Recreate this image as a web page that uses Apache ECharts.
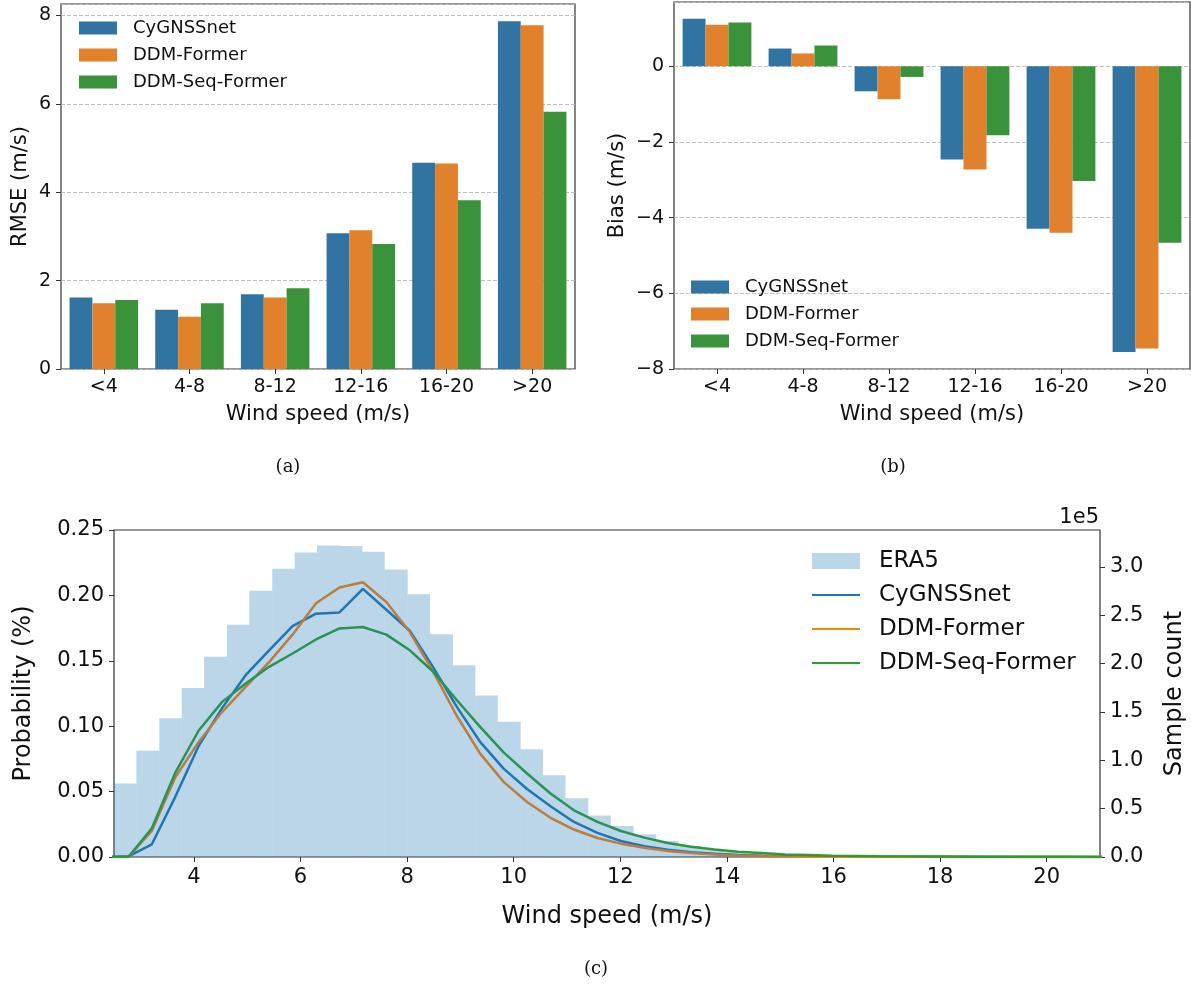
<!DOCTYPE html>
<html>
<head>
<meta charset="utf-8">
<script src="https://cdn.jsdelivr.net/npm/echarts@6/dist/echarts.min.js"></script>
<style>
  html, body { margin: 0; padding: 0; background: #fff; }
  #main { width: 1191px; height: 987px; }
</style>
</head>
<body>
<div id="main"></div>
<script>
// panels (a) and (b): error by wind speed bin
var categories = ['<4', '4-8', '8-12', '12-16', '16-20', '>20'];
var modelNames = ['CyGNSSnet', 'DDM-Former', 'DDM-Seq-Former'];
var rmseCyg = [1.62, 1.34, 1.69, 3.07, 4.67, 7.87];
var rmseFormer = [1.49, 1.18, 1.62, 3.14, 4.65, 7.78];
var rmseSeq = [1.56, 1.49, 1.83, 2.83, 3.82, 5.82];
var biasCyg = [1.26, 0.47, -0.66, -2.46, -4.29, -7.55];
var biasFormer = [1.10, 0.34, -0.87, -2.73, -4.40, -7.46];
var biasSeq = [1.16, 0.55, -0.28, -1.82, -3.03, -4.66];

// panel (c): ERA5 histogram (sample count, 1e5) and predicted pdfs
var eraEdges = [2.50, 2.92, 3.35, 3.77, 4.19, 4.62, 5.04, 5.47, 5.89, 6.31, 6.74, 7.16, 7.58, 8.01, 8.43,
  8.86, 9.28, 9.70, 10.13, 10.55, 10.97, 11.40, 11.82, 12.25, 12.67, 13.09, 13.52, 13.94, 14.36, 14.79,
  15.21, 15.64, 16.06, 16.48, 16.91, 17.33, 17.75, 18.18, 18.60, 19.03, 19.45, 19.87, 20.30, 20.72, 21.14];
var eraCount = [0.759, 1.097, 1.434, 1.748, 2.069, 2.400, 2.752, 2.979, 3.148, 3.221,
  3.214, 3.155, 2.972, 2.717, 2.303, 1.983, 1.669, 1.397, 1.114, 0.845,
  0.607, 0.428, 0.321, 0.234, 0.166, 0.115, 0.080, 0.055, 0.038, 0.026,
  0.018, 0.012, 0.008, 0.006, 0.004, 0.003, 0.002, 0.0015, 0.001, 0.0008,
  0.0006, 0.0004, 0.0003, 0.0002];
var windX = [2.33, 2.77, 3.21, 3.65, 4.09, 4.53, 4.97, 5.41, 5.85, 6.29, 6.73, 7.17, 7.61, 8.05, 8.49,
  8.93, 9.37, 9.81, 10.25, 10.69, 11.13, 11.57, 12.01, 12.45, 12.89, 13.33, 13.77, 14.21, 14.65, 15.09,
  15.53, 15.97, 16.85, 17.73, 18.61, 19.49, 20.37, 21.25];
var pdfCyg = [0, 0.0005, 0.0097, 0.046, 0.085, 0.114, 0.139, 0.158, 0.1765, 0.186, 0.187, 0.205, 0.189, 0.173, 0.145,
  0.115, 0.088, 0.0676, 0.052, 0.0388, 0.0268, 0.0184, 0.0122, 0.0082, 0.0056, 0.0037, 0.0025, 0.0016, 0.0010, 0.0007,
  0.0004, 0.0003, 0.0002, 0.0001, 0.0001, 0, 0, 0];
var pdfFormer = [0, 0, 0.020, 0.061, 0.088, 0.111, 0.130, 0.149, 0.170, 0.194, 0.206, 0.210, 0.195, 0.172, 0.1416,
  0.108, 0.079, 0.0574, 0.042, 0.030, 0.021, 0.0145, 0.0102, 0.0071, 0.0046, 0.0030, 0.0020, 0.0012, 0.0007, 0.0004,
  0.0002, 0.0001, 0, 0, 0, 0, 0, 0];
var pdfSeq = [0, 0, 0.022, 0.0645, 0.0967, 0.1186, 0.1327, 0.1454, 0.1556, 0.1663, 0.1747, 0.1758, 0.170, 0.158, 0.1416,
  0.120, 0.0995, 0.080, 0.0638, 0.0485, 0.0357, 0.0268, 0.0199, 0.0148, 0.0107, 0.0078, 0.0057, 0.0040, 0.0030, 0.0020,
  0.0015, 0.0010, 0.0006, 0.0004, 0.0002, 0.0001, 0.0001, 0];

var barColors = ['#3274a1', '#e1812c', '#3a923a'];
var lineColors = ['#1f77b4', '#ff7f0e', '#2ca02c'];
var FONT = 'DejaVu Sans';
var TXT = '#111';

var myChart = echarts.init(document.getElementById('main'), null, { renderer: 'canvas' });

function zip(xs, ys) {
  return xs.map(function (x, i) { return [x, ys[i]]; });
}
function minusFmt(v) {
  return v < 0 ? '\u2212' + Math.abs(v) : String(v);
}

var catAxis = function (grid) {
  return {
    type: 'category', gridIndex: grid, data: categories,
    axisLine: { show: false, onZero: false },
    axisTick: { show: true, alignWithLabel: true, length: 5, lineStyle: { color: '#333' } },
    axisLabel: { color: TXT, fontFamily: FONT, fontSize: 19, margin: 9 },
    name: 'Wind speed (m/s)', nameLocation: 'middle', nameGap: 35,
    nameTextStyle: { color: TXT, fontFamily: FONT, fontSize: 21 }
  };
};
var valAxis = function (grid, min, max, name, gap) {
  return {
    type: 'value', gridIndex: grid, min: min, max: max, interval: 2,
    axisLine: { show: false },
    axisTick: { show: true, length: 5, lineStyle: { color: '#333' } },
    axisLabel: { color: TXT, fontFamily: FONT, fontSize: 19, margin: 10, showMaxLabel: false, formatter: minusFmt },
    splitLine: { show: true, lineStyle: { color: '#b8b8b8', type: [4, 2], width: 0.9 } },
    name: name, nameLocation: 'middle', nameGap: gap,
    nameTextStyle: { color: TXT, fontFamily: FONT, fontSize: 21 }
  };
};
var barLegend = function (left, top) {
  return {
    left: left, top: top, orient: 'vertical', padding: 0,
    icon: 'rect', itemWidth: 38, itemHeight: 13, itemGap: 7,
    data: modelNames,
    textStyle: { color: TXT, fontFamily: FONT, fontSize: 18, lineHeight: 20, padding: [0, 0, 0, 11] }
  };
};

var series = [];
[rmseCyg, rmseFormer, rmseSeq].forEach(function (d, i) {
  series.push({ name: modelNames[i], type: 'bar', xAxisIndex: 0, yAxisIndex: 0, data: d,
    barGap: '0%', barCategoryGap: '20%', itemStyle: { color: barColors[i] } });
});
[biasCyg, biasFormer, biasSeq].forEach(function (d, i) {
  series.push({ name: modelNames[i], type: 'bar', xAxisIndex: 1, yAxisIndex: 1, data: d,
    barGap: '0%', barCategoryGap: '20%', itemStyle: { color: barColors[i] } });
});
// pdf lines sit under the translucent histogram, like the twin axis in the original
[pdfCyg, pdfFormer, pdfSeq].forEach(function (d, i) {
  series.push({ name: 'pdf:' + modelNames[i], type: 'line', xAxisIndex: 2, yAxisIndex: 2,
    data: zip(windX, d), symbol: 'none', z: 2, animation: false,
    lineStyle: { color: lineColors[i], width: 2.5 }, itemStyle: { color: lineColors[i] } });
});
series.push({
  name: 'ERA5', type: 'custom', xAxisIndex: 2, yAxisIndex: 3, z: 5,
  itemStyle: { color: 'rgba(31,119,180,0.3)' },
  encode: { x: [0, 1], y: 2 },
  data: eraCount.map(function (c, i) { return [eraEdges[i], eraEdges[i + 1], c]; }),
  renderItem: function (params, api) {
    var p0 = api.coord([api.value(0), api.value(2)]);
    var p1 = api.coord([api.value(1), 0]);
    var shape = echarts.graphic.clipRectByRect(
      { x: p0[0], y: p0[1], width: p1[0] - p0[0], height: p1[1] - p0[1] },
      { x: params.coordSys.x, y: params.coordSys.y, width: params.coordSys.width, height: params.coordSys.height });
    return shape && { type: 'rect', shape: shape, style: { fill: api.visual('color') } };
  }
});

var option = {
  backgroundColor: '#fff',
  animation: false,
  grid: [
    { left: 61, top: 4, width: 514, height: 365, show: true, borderColor: '#333', borderWidth: 1.2, outerBoundsMode: 'none' },
    { left: 674, top: 2, width: 516, height: 367, show: true, borderColor: '#333', borderWidth: 1.2, outerBoundsMode: 'none' },
    { left: 114, top: 530, width: 986, height: 327, show: true, borderColor: '#333', borderWidth: 1.2, outerBoundsMode: 'none' }
  ],
  legend: [
    barLegend(79, 18),
    barLegend(691, 277),
    {
      left: 811, top: 548, orient: 'vertical', padding: 0,
      itemWidth: 48, itemHeight: 16, itemGap: 8,
      data: [{ name: 'ERA5', icon: 'rect' }].concat(modelNames.map(function (n) {
        return { name: 'pdf:' + n, itemStyle: { opacity: 0 } };
      })),
      formatter: function (n) { return n.replace('pdf:', ''); },
      textStyle: { color: TXT, fontFamily: FONT, fontSize: 23, lineHeight: 26, padding: [0, 0, 0, 14] }
    }
  ],
  xAxis: [
    catAxis(0),
    catAxis(1),
    {
      type: 'value', gridIndex: 2, min: 2.5, max: 21,
      axisLine: { show: false },
      axisTick: { show: true, length: 5, customValues: [4, 6, 8, 10, 12, 14, 16, 18, 20], lineStyle: { color: '#333' } },
      axisLabel: { color: TXT, fontFamily: FONT, fontSize: 21, margin: 10, customValues: [4, 6, 8, 10, 12, 14, 16, 18, 20] },
      splitLine: { show: false },
      name: 'Wind speed (m/s)', nameLocation: 'middle', nameGap: 48,
      nameTextStyle: { color: TXT, fontFamily: FONT, fontSize: 24 }
    }
  ],
  yAxis: [
    valAxis(0, 0, 8.26, 'RMSE (m/s)', 30),
    valAxis(1, -8, 1.7, 'Bias (m/s)', 46),
    {
      type: 'value', gridIndex: 2, min: 0, max: 0.25, interval: 0.05,
      axisLine: { show: false },
      axisTick: { show: true, length: 5, lineStyle: { color: '#333' } },
      axisLabel: { color: TXT, fontFamily: FONT, fontSize: 21, margin: 10,
        formatter: function (v) { return v.toFixed(2); } },
      splitLine: { show: false },
      name: 'Probability (%)', nameLocation: 'middle', nameGap: 78,
      nameTextStyle: { color: TXT, fontFamily: FONT, fontSize: 24 }
    },
    {
      type: 'value', gridIndex: 2, position: 'right', min: 0, max: 3.38, interval: 0.5,
      axisLine: { show: false },
      axisTick: { show: true, length: 5, lineStyle: { color: '#333' } },
      axisLabel: { color: TXT, fontFamily: FONT, fontSize: 21, margin: 10, showMaxLabel: false,
        formatter: function (v) { return v.toFixed(1); } },
      splitLine: { show: false },
      name: 'Sample count', nameLocation: 'middle', nameGap: 63,
      nameTextStyle: { color: TXT, fontFamily: FONT, fontSize: 24 }
    }
  ],
  graphic: [
    { type: 'text', x: 1099, y: 518, style: { text: '1e5', font: '21px "DejaVu Sans"', fill: TXT, align: 'right', verticalAlign: 'middle' } },
    { type: 'text', x: 288, y: 467, style: { text: '(a)', font: '18px "DejaVu Serif"', fill: TXT, align: 'center', verticalAlign: 'middle' } },
    { type: 'text', x: 893, y: 467, style: { text: '(b)', font: '18px "DejaVu Serif"', fill: TXT, align: 'center', verticalAlign: 'middle' } },
    { type: 'text', x: 596, y: 969, style: { text: '(c)', font: '18px "DejaVu Serif"', fill: TXT, align: 'center', verticalAlign: 'middle' } }
  ],
  series: series
};

myChart.setOption(option);
</script>
</body>
</html>
